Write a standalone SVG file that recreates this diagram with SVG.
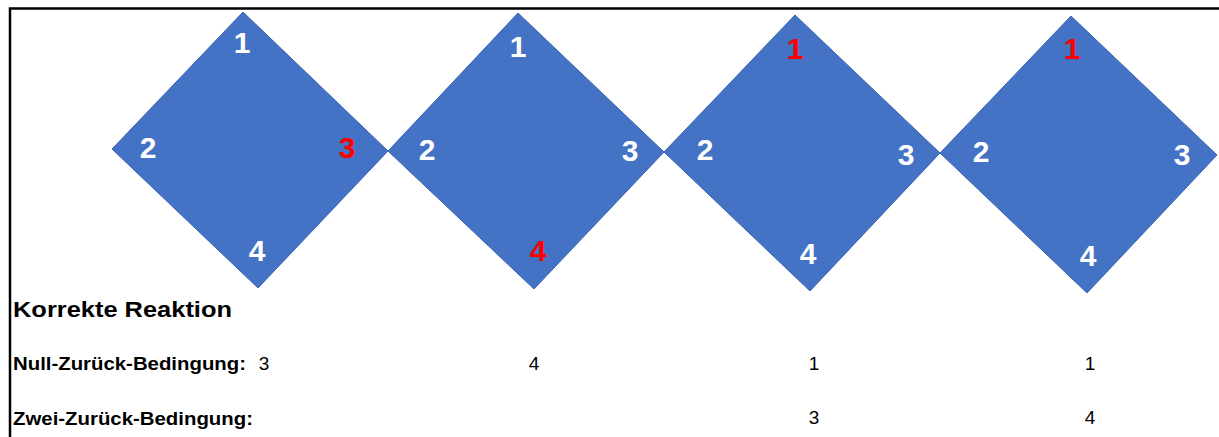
<svg xmlns="http://www.w3.org/2000/svg" width="1219" height="437" viewBox="0 0 1219 437">
<style>
.d{fill:#4472C4;stroke:#3B65B3;stroke-width:1}
.n{font-family:"Liberation Sans",Arial,sans-serif;font-weight:bold;font-size:30px;text-anchor:middle;fill:#FFFFFF}
.r{fill:#FF0000}
.h{font-family:"Liberation Sans",Arial,sans-serif;font-weight:bold;fill:#000000}
.v{font-family:"Liberation Sans",Arial,sans-serif;font-size:19px;text-anchor:middle;fill:#000000}
</style>
<rect x="0" y="0" width="1219" height="437" fill="#FFFFFF"/>
<path d="M10,437 V8.5 H1219" fill="none" stroke="#000000" stroke-width="2.5"/>
<g id="diamond1">
<polygon class="d" points="243,12 388,151 258,288 112,149"/>
<text class="n" x="242" y="53">1</text>
<text class="n" x="148" y="158">2</text>
<text class="n r" x="347" y="158">3</text>
<text class="n" x="257" y="261">4</text>
</g>
<g id="diamond2">
<polygon class="d" points="518,13 664,152 534,289 388,151"/>
<text class="n" x="518" y="57">1</text>
<text class="n" x="427" y="160">2</text>
<text class="n" x="630" y="161">3</text>
<text class="n r" x="538" y="261">4</text>
</g>
<g id="diamond3">
<polygon class="d" points="795,15 940,153 810,291 664,152"/>
<text class="n r" x="795" y="59">1</text>
<text class="n" x="705" y="160">2</text>
<text class="n" x="906" y="165">3</text>
<text class="n" x="808" y="264">4</text>
</g>
<g id="diamond4">
<polygon class="d" points="1071,16 1217,155 1087,293 940,153"/>
<text class="n r" x="1072" y="59">1</text>
<text class="n" x="981" y="162">2</text>
<text class="n" x="1182" y="165">3</text>
<text class="n" x="1088" y="266">4</text>
</g>
<g id="table">
<text class="h" x="13" y="317" font-size="22" textLength="219" lengthAdjust="spacingAndGlyphs">Korrekte Reaktion</text>
<text class="h" x="13" y="370" font-size="19" textLength="233" lengthAdjust="spacingAndGlyphs">Null-Zurück-Bedingung:</text>
<text class="h" x="13" y="425" font-size="19" textLength="240" lengthAdjust="spacingAndGlyphs">Zwei-Zurück-Bedingung:</text>
<text class="v" x="264" y="370">3</text>
<text class="v" x="534" y="370">4</text>
<text class="v" x="814" y="370">1</text>
<text class="v" x="1090" y="370">1</text>
<text class="v" x="814" y="424">3</text>
<text class="v" x="1090" y="424">4</text>
</g>
</svg>
